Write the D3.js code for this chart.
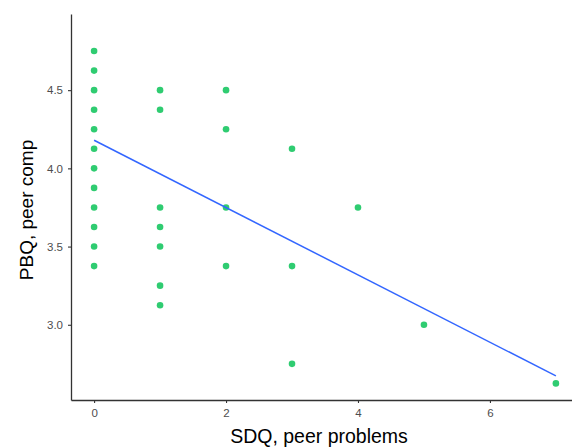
<!doctype html>
<html>
<head>
<meta charset="UTF-8">
<title>PBQ vs SDQ</title>
<script src="https://cdn.jsdelivr.net/npm/d3@7"></script>
<style>
  body { margin: 0; background: #fff; }
  text { font-family: "Liberation Sans", Arial, sans-serif; }
</style>
</head>
<body>
<div id="chart"></div>
<script>
// SDQ peer problems (x) and PBQ peer comp (y), one entry per visible point
const sdq = [0,0,0,0,0,0,0,0,0,0,0,0, 1,1,1,1,1,1,1, 2,2,2,2, 3,3,3, 4, 5, 7];
const pbq = [4.75,4.625,4.5,4.375,4.25,4.125,4.0,3.875,3.75,3.625,3.5,3.375,
             4.5,4.375,3.75,3.625,3.5,3.25,3.125,
             4.5,4.25,3.75,3.375,
             4.125,3.375,2.75,
             3.75, 3.0, 2.625];
// fitted line endpoints
const fitX = [0, 7];
const fitY = [4.18, 2.673];
const xTicks = [0, 2, 4, 6];
const yTicks = [3.0, 3.5, 4.0, 4.5];

const W = 572, H = 447;
const m = {left: 71, top: 14, bottom: 47};

const svg = d3.select("#chart").append("svg")
    .attr("width", W).attr("height", H);

const x = d3.scaleLinear().domain([-0.35, 7.35]).range([m.left, m.left + 508]);
const y = d3.scaleLinear().domain([2.519, 4.987]).range([H - m.bottom, m.top]);

// axes
const xAxis = svg.append("g")
    .attr("transform", `translate(0,${H - m.bottom})`)
    .call(d3.axisBottom(x).tickValues(xTicks).tickSize(3).tickSizeOuter(0)
      .tickPadding(6).tickFormat(d3.format("d")));
const yAxis = svg.append("g")
    .attr("transform", `translate(${m.left},0)`)
    .call(d3.axisLeft(y).tickValues(yTicks).tickSize(3).tickSizeOuter(0)
      .tickPadding(5).tickFormat(d3.format(".1f")));

[xAxis, yAxis].forEach(g => {
  g.select(".domain").attr("stroke", "#333").attr("stroke-width", 1.3);
  g.selectAll(".tick line").attr("stroke", "#333").attr("stroke-width", 1.1);
  g.selectAll(".tick text").attr("fill", "#4d4d4d").style("font-size", "11.5px");
});

// points
svg.append("g").selectAll("circle")
  .data(sdq.map((d, i) => [d, pbq[i]]))
  .join("circle")
    .attr("cx", d => x(d[0]))
    .attr("cy", d => y(d[1]))
    .attr("r", 3.3)
    .attr("fill", "#2fcc71");

// regression line
svg.append("path")
    .datum(fitX.map((d, i) => [d, fitY[i]]))
    .attr("fill", "none")
    .attr("stroke", "#3366ff")
    .attr("stroke-width", 1.5)
    .attr("d", d3.line().x(d => x(d[0])).y(d => y(d[1])));

// axis titles
svg.append("text")
    .attr("x", 319).attr("y", 443)
    .attr("text-anchor", "middle")
    .style("font-size", "19.5px")
    .text("SDQ, peer problems");

svg.append("text")
    .attr("transform", "translate(33,210) rotate(-90)")
    .attr("text-anchor", "middle")
    .style("font-size", "19px")
    .text("PBQ, peer comp");
</script>
</body>
</html>
